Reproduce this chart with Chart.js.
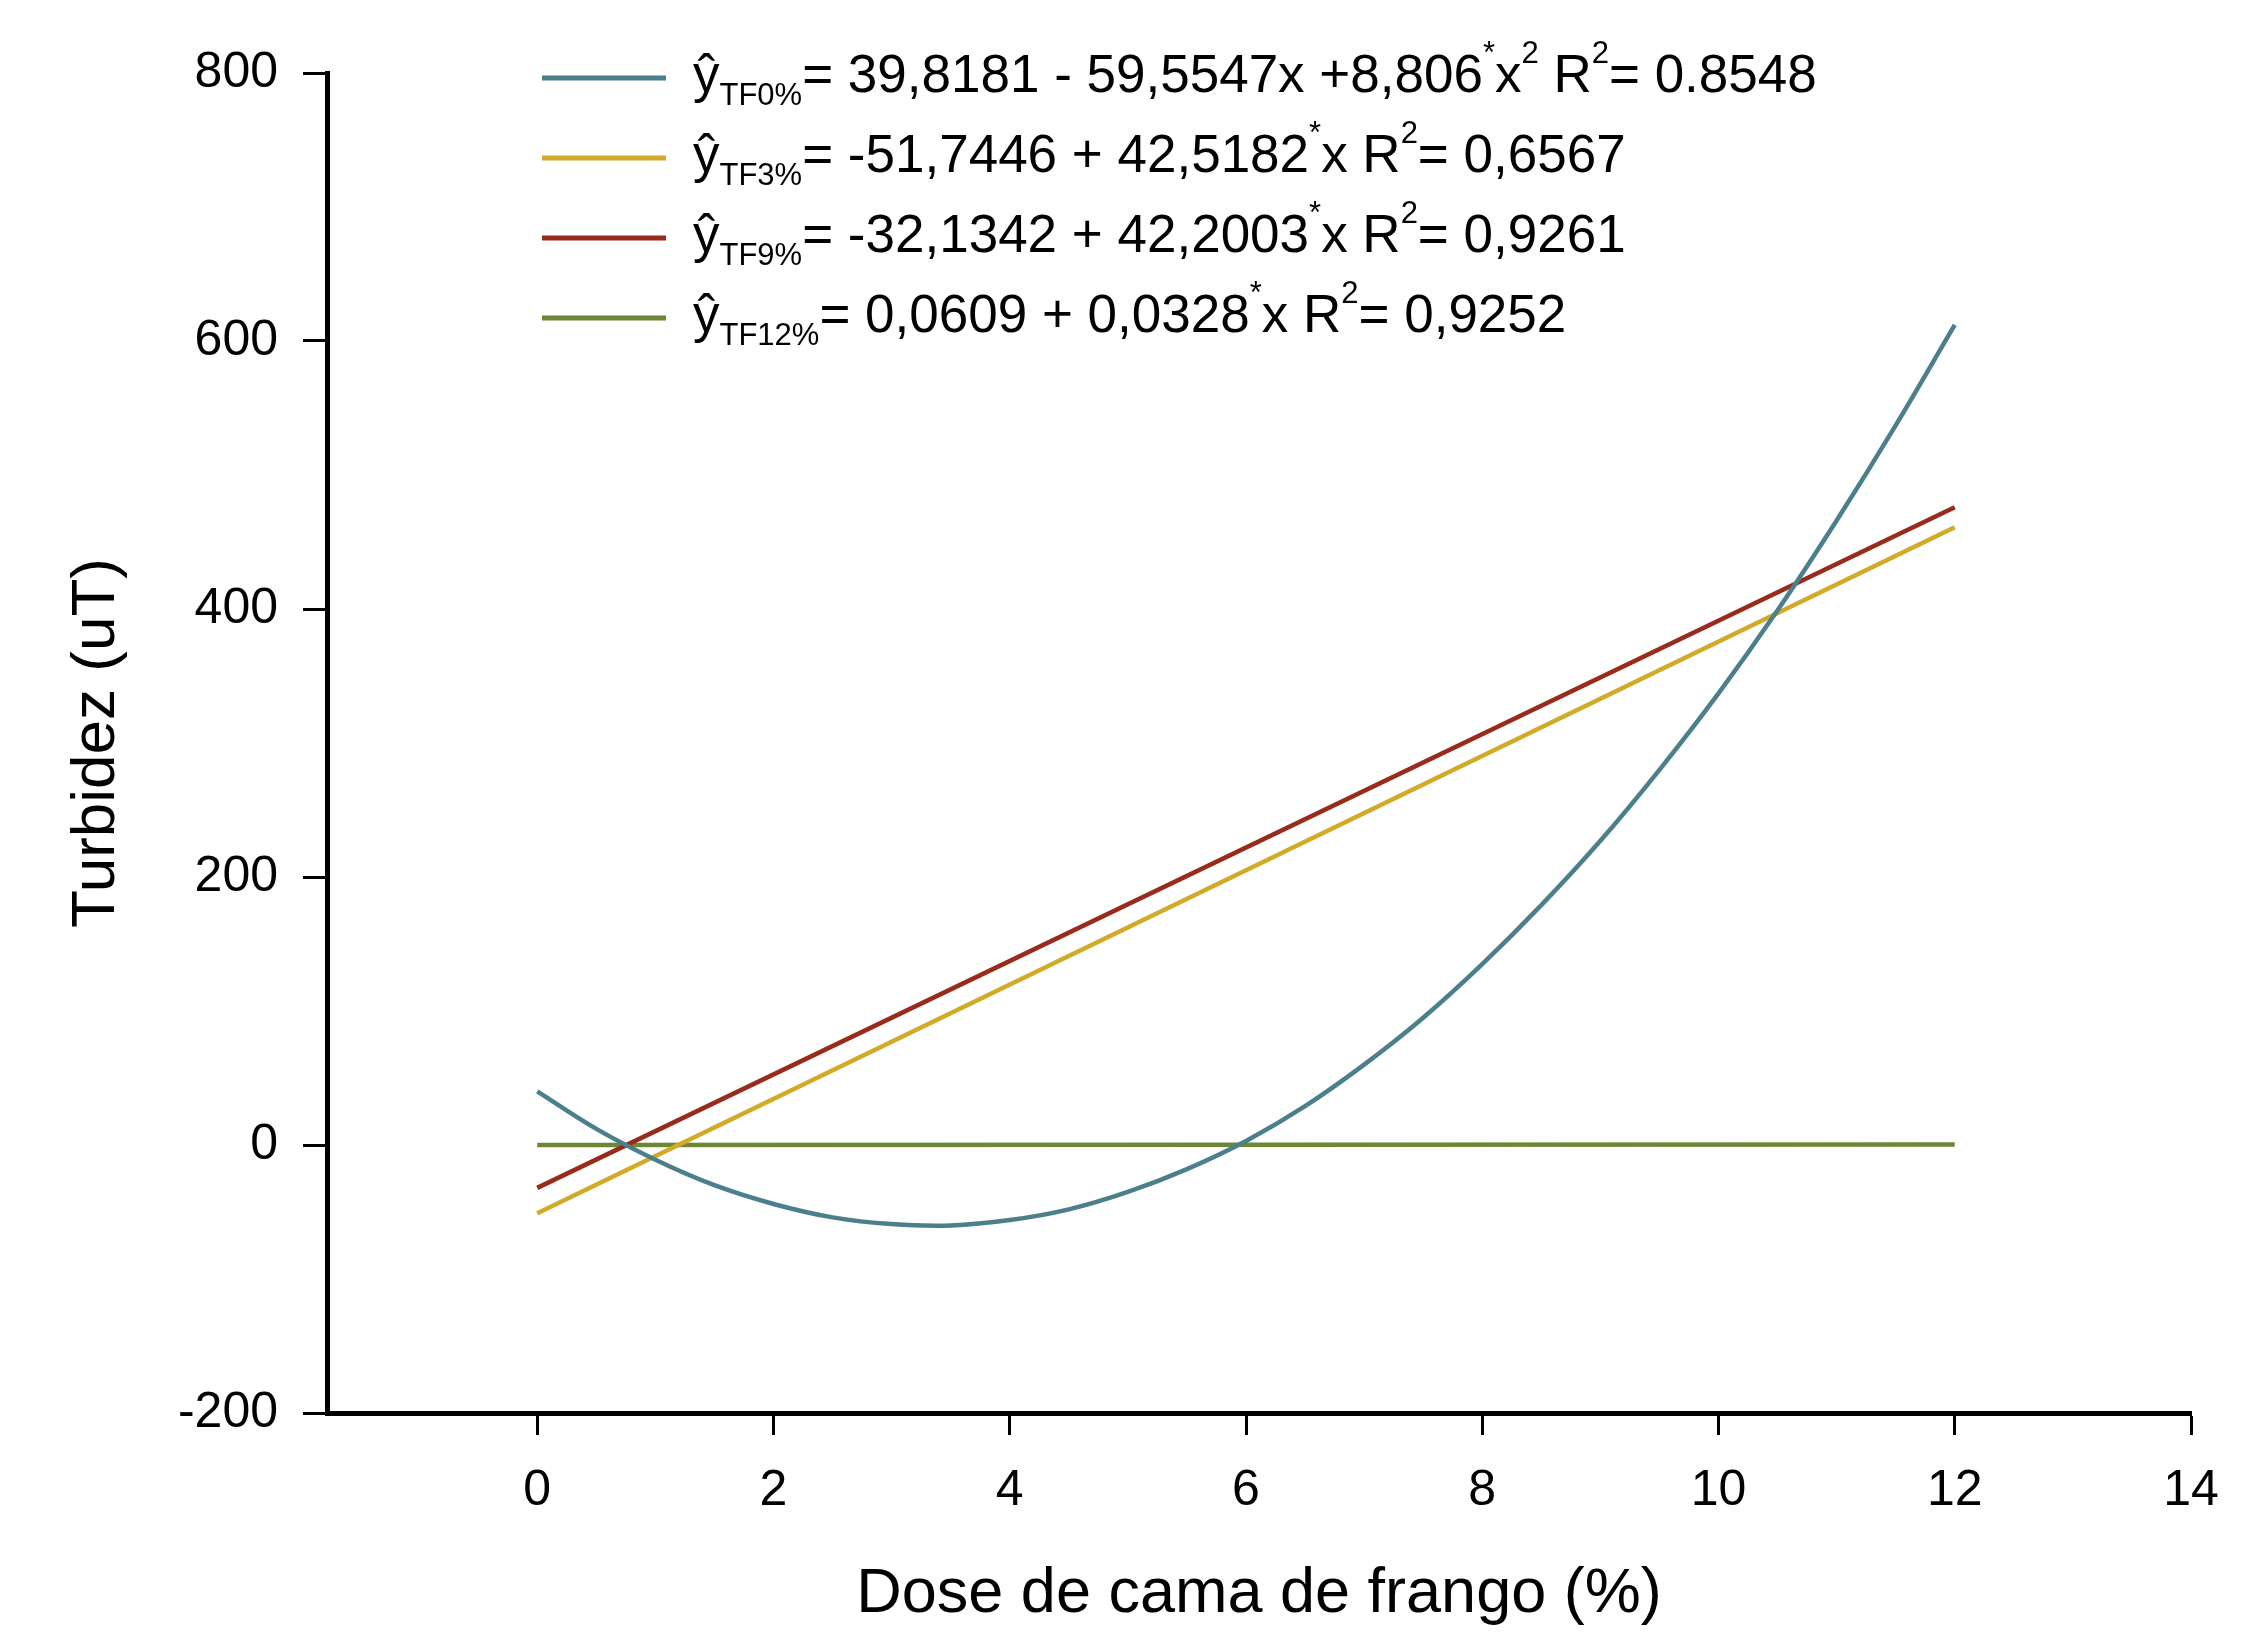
<!DOCTYPE html>
<html>
<head>
<meta charset="utf-8">
<script src="https://cdn.jsdelivr.net/npm/chart.js@4/dist/chart.umd.min.js"></script>
<style>
  html, body { margin: 0; padding: 0; background: #ffffff; }
  #wrap { width: 2246px; height: 1632px; }
</style>
</head>
<body>
<div id="wrap"><canvas id="c" width="2246" height="1632" style="width:2246px;height:1632px"></canvas></div>
<script>
// ---- data ----
const seriesNames = ['TF0%', 'TF3%', 'TF9%', 'TF12%'];
const colors = ['#4c7f8c', '#d2aa28', '#982b1b', '#6c8836'];

const xCurve = [0, 0.5, 1, 1.5, 2, 2.5, 3, 3.5, 4, 4.5, 5, 5.5, 6, 6.5, 7, 7.5, 8, 8.5, 9, 9.5, 10, 10.5, 11, 11.5, 12];
const yTF0 = [40, 12, -11, -30, -44, -54, -59, -60, -56, -48, -35, -18, 3, 29, 60, 95, 135, 179, 227, 280, 337, 399, 466, 537, 612];

const xLine = [0, 12];
const yTF3 = [-51, 461];
const yTF9 = [-32, 476];
const yTF12 = [0.06, 0.45];

const xTicks = [0, 2, 4, 6, 8, 10, 12, 14];
const yTicks = [-200, 0, 200, 400, 600, 800];
const xMin = -1.78, xMax = 14, yMin = -200, yMax = 800;

const xTitle = 'Dose de cama de frango (%)';
const yTitle = 'Turbidez (uT)';

// legend equations as rich-text segments (s: 'sub' | 'sup')
const legendLabels = [
  [{t:'ŷ'},{t:'TF0%',s:'sub'},{t:'= 39,8181 - 59,5547x +8,806'},{t:'*',s:'sup'},{t:'x'},{t:'2',s:'sup'},{t:' R'},{t:'2',s:'sup'},{t:'= 0.8548'}],
  [{t:'ŷ'},{t:'TF3%',s:'sub'},{t:'= -51,7446 + 42,5182'},{t:'*',s:'sup'},{t:'x R'},{t:'2',s:'sup'},{t:'= 0,6567'}],
  [{t:'ŷ'},{t:'TF9%',s:'sub'},{t:'= -32,1342 + 42,2003'},{t:'*',s:'sup'},{t:'x R'},{t:'2',s:'sup'},{t:'= 0,9261'}],
  [{t:'ŷ'},{t:'TF12%',s:'sub'},{t:'= 0,0609 + 0,0328'},{t:'*',s:'sup'},{t:'x R'},{t:'2',s:'sup'},{t:'= 0,9252'}]
];

const toPts = (xs, ys) => xs.map((x, i) => ({x: x, y: ys[i]}));
const FONT = '"Liberation Sans", Arial, sans-serif';

const legendPlugin = {
  id: 'eqLegend',
  afterDraw(chart) {
    const ctx = chart.ctx;
    const ca = chart.chartArea;
    const lineX0 = ca.left + 215, lineX1 = ca.left + 339;
    const textX = ca.left + 366;
    ctx.save();
    ctx.textBaseline = 'alphabetic';
    ctx.textAlign = 'left';
    ctx.fillStyle = '#000';
    legendLabels.forEach((segs, i) => {
      const base = ca.top + 19 + i * 80;
      ctx.strokeStyle = colors[i];
      ctx.lineWidth = 5;
      ctx.beginPath();
      ctx.moveTo(lineX0, base - 14);
      ctx.lineTo(lineX1, base - 14);
      ctx.stroke();
      let x = textX;
      segs.forEach(seg => {
        let dy = 0, size = 53;
        if (seg.s === 'sub') { size = 31; dy = 13; }
        else if (seg.s === 'sup') { size = 31; dy = -29; }
        ctx.font = size + 'px ' + FONT;
        ctx.fillText(seg.t, x, base + dy);
        x += ctx.measureText(seg.t).width;
      });
    });
    ctx.restore();
  }
};

const tickObjs = arr => arr.map(v => ({value: v}));

new Chart(document.getElementById('c'), {
  type: 'line',
  data: {
    datasets: [
      {label: seriesNames[0], data: toPts(xCurve, yTF0), borderColor: colors[0], borderWidth: 4.5, pointRadius: 0, tension: 0.4, fill: false},
      {label: seriesNames[1], data: toPts(xLine, yTF3), borderColor: colors[1], borderWidth: 4.5, pointRadius: 0, fill: false},
      {label: seriesNames[2], data: toPts(xLine, yTF9), borderColor: colors[2], borderWidth: 4.5, pointRadius: 0, fill: false},
      {label: seriesNames[3], data: toPts(xLine, yTF12), borderColor: colors[3], borderWidth: 4.5, pointRadius: 0, fill: false}
    ]
  },
  options: {
    responsive: false,
    animation: false,
    devicePixelRatio: 1,
    layout: { padding: { top: 73, right: 55, left: 0, bottom: 0 } },
    plugins: { legend: { display: false }, tooltip: { enabled: false } },
    scales: {
      x: {
        type: 'linear', min: xMin, max: xMax,
        afterBuildTicks: s => { s.ticks = tickObjs(xTicks); },
        afterFit: s => { s.height = 219; },
        border: { display: true, color: '#000', width: 5 },
        grid: { drawOnChartArea: false, drawTicks: true, tickLength: 22, tickWidth: 3, tickColor: '#000' },
        ticks: { color: '#000', font: { family: FONT, size: 50 }, padding: 26, maxRotation: 0, autoSkip: false },
        title: { display: true, text: xTitle, color: '#000', font: { family: FONT, size: 63 }, padding: { top: 0, bottom: 0 } }
      },
      y: {
        type: 'linear', min: yMin, max: yMax,
        afterBuildTicks: s => { s.ticks = tickObjs(yTicks); },
        afterFit: s => { s.width = 327; },
        border: { display: true, color: '#000', width: 5 },
        grid: { drawOnChartArea: false, drawTicks: true, tickLength: 24, tickWidth: 3, tickColor: '#000' },
        ticks: { color: '#000', font: { family: FONT, size: 50 }, padding: 25, autoSkip: false },
        title: { display: true, text: yTitle, color: '#000', font: { family: FONT, size: 62 }, padding: { top: 60, bottom: 0 } }
      }
    }
  },
  plugins: [legendPlugin]
});
</script>
</body>
</html>
